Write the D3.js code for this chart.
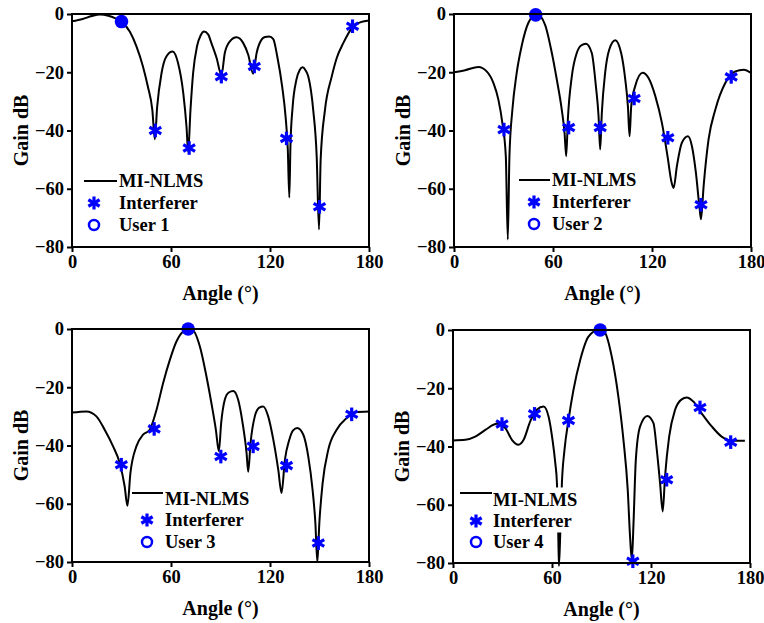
<!DOCTYPE html>
<html>
<head>
<meta charset="utf-8">
<script src="https://d3js.org/d3.v7.min.js"></script>
<style>
  body { margin: 0; background: #fff; }
  text { font-family: "Liberation Serif", "Times New Roman", serif; font-weight: bold; font-size: 18.5px; fill: #000; }
  text.axisLabel { font-size: 20px; }
</style>
</head>
<body>
<div id="chart"></div>
<script>
// Tick values shared by all four panels
const angleTicks = [0, 60, 120, 180];
const gainTicks = [0, -20, -40, -60, -80];

// Beam patterns, [angle (deg), gain (dB)]
const curve1 = [[0,-2.5],[6.5,-1.7],[12,-0.7],[17,-0.2],[22,-0.6],[26,-1.4],[30,-2.7],[35,-6],[39,-11],[43,-18],[46,-25],[48.7,-33],[50.2,-43],[51.6,-32],[54.2,-20.5],[57.2,-14.6],[61,-12.9],[64.3,-16.9],[67.4,-27],[69.4,-38.7],[70.4,-47.3],[71.8,-33],[73.4,-20.3],[75.8,-11],[78,-7.3],[80,-6],[82.5,-7],[84.5,-10],[87.6,-15],[90.6,-21],[92.6,-13.4],[95.7,-9.4],[99.7,-8],[103.8,-10],[106.8,-14],[109.8,-20.5],[111.9,-13.4],[114.9,-8.8],[117,-7.9],[119.5,-7.7],[122,-8.6],[124.4,-14.6],[127.4,-25],[129.4,-35],[130.8,-46.7],[131.7,-63],[132.4,-45],[133.7,-32],[136,-22.6],[138,-19.2],[139.8,-18.3],[141.5,-19.3],[143.2,-21.5],[146.2,-33],[148.3,-49],[149.7,-74],[150.7,-50],[153.3,-33],[157.4,-21.5],[160.5,-15],[164.4,-10],[170.5,-4.2],[175,-2.8],[180,-2.2]];
const curve2 = [[0,-20],[6.7,-19.3],[14.8,-18.2],[19.8,-19.7],[23.9,-23.7],[26.9,-29.4],[29.3,-37.4],[31.4,-48.8],[32.6,-77.4],[33.6,-48.8],[35.4,-32.8],[38,-20.2],[41,-11],[45.1,-3],[50.2,0],[55.2,-3.7],[59.3,-13.4],[62.3,-22.5],[65.3,-32.8],[67,-40.8],[68,-48.8],[69,-36.2],[71.4,-21.4],[74.4,-13.4],[77,-10.8],[80,-10.2],[83.5,-13.4],[86,-24.8],[87.6,-35],[88.6,-46.5],[89.6,-33.9],[91.6,-20.2],[94.1,-12.2],[97.7,-9],[101.3,-13.4],[103.8,-22.5],[105.4,-31.7],[106.4,-42],[107.4,-31.7],[109.8,-24.8],[114.3,-20.2],[117.9,-22],[122,-28.2],[126,-37.4],[129.4,-48.8],[131.7,-57.4],[133.1,-59.7],[135.1,-52.2],[138.1,-44.2],[141.8,-42],[144.2,-45.4],[146.6,-54.5],[148.7,-66],[149.7,-70.5],[151.3,-59],[154.3,-43],[158.4,-32.8],[164.4,-23.7],[170.5,-19.7],[175.6,-19.1],[180,-20.2]];
const curve3 = [[0,-28.7],[8.7,-28.3],[14.8,-30],[19.8,-34.6],[24.9,-40.3],[28.9,-46],[31.9,-54],[33.6,-60.7],[35.4,-49.5],[39,-40.3],[43.1,-36.3],[47.1,-34.6],[51.2,-27.8],[55.2,-18.6],[59.3,-10.6],[63.3,-4.3],[67.4,-0.9],[72.4,0],[77.5,-6],[81.5,-16.3],[84.5,-25.5],[87.2,-34.6],[89,-42],[90.4,-32.3],[92.6,-24.3],[95,-21.8],[97.7,-21.3],[100.7,-24.3],[103.4,-32.3],[105.8,-42.6],[106.8,-49],[108.2,-39.2],[110.8,-30],[113.5,-27],[115.9,-26.6],[118.9,-30],[122,-38],[125,-48.3],[127,-56.3],[129,-45],[131.7,-38],[134,-34.8],[136.5,-34],[140.2,-36.3],[143.2,-43.8],[145.8,-55.2],[147.5,-66.6],[148.7,-80],[149.9,-66.6],[151.9,-52.9],[155.3,-41.5],[160.4,-34.6],[166.5,-30.6],[171.5,-28.6],[180,-28.3]];
const curve4 = [[0,-37.9],[7.5,-37.7],[13.5,-36.6],[19.6,-34.3],[26.6,-32.2],[31.7,-33.7],[35.7,-37.7],[39.7,-39.4],[42.8,-37.7],[46.8,-31.4],[50.8,-27.4],[54.9,-26.3],[57.9,-29.7],[60.3,-37.7],[62,-45.7],[63,-52.6],[63.8,-70],[64.2,-81],[65,-70],[66,-52.6],[67.6,-41],[70,-30.9],[73,-20.6],[77.1,-10.3],[82.1,-2.3],[88.2,0],[92.2,-1.1],[96.2,-9.1],[100.3,-23.2],[103.3,-37.7],[105.9,-54.9],[107.3,-70.9],[108.4,-78.9],[109.4,-66.3],[110.8,-44.6],[113.4,-33.1],[117.8,-29.5],[121.5,-32],[123.5,-41.1],[125.5,-52.6],[127.1,-62.3],[128.5,-50.3],[131,-36.6],[134.6,-27.4],[138.6,-23.8],[141.6,-23.2],[145.7,-24.6],[150.7,-28.6],[156.8,-33.1],[162.8,-36.6],[168.9,-38],[176.9,-38]];

// Interferer directions and the gain marked at each
const interferers1 = [[50.5,-40],[71,-46],[90.5,-21.5],[110.5,-18],[130,-42.7],[150,-66.2],[170,-4.2]];
const interferers2 = [[30.3,-39.7],[69.5,-39],[88.6,-39],[109.2,-29],[129.6,-42.5],[149.7,-65.5],[168,-21.6]];
const interferers3 = [[29.9,-46.6],[49.8,-34.3],[90.2,-43.8],[109.8,-40.3],[130,-46.9],[149.3,-73.5],[169.5,-29.3]];
const interferers4 = [[29.7,-32.3],[49.4,-28.8],[70,-31.1],[109,-79.4],[129.5,-51.4],[149.7,-26.6],[168.3,-38.5]];

// Desired user directions
const users = [[30,-2.6],[49.5,-0.3],[70.4,0],[89.2,0]];
const userLabels = ['User 1', 'User 2', 'User 3', 'User 4'];
const legendLabels = ['MI-NLMS', 'Interferer'];

const blue = '#0000ff';

const panels = [
  { curve: curve1, interferers: interferers1, left: 72, top: 14,
    legend: { x0: 12, x1: 45, lineY: 167, mark: 22, text: 47, rows: [167, 189, 211] } },
  { curve: curve2, interferers: interferers2, left: 454, top: 14,
    legend: { x0: 65, x1: 96, lineY: 166, mark: 80, text: 98, rows: [166, 188, 210] } },
  { curve: curve3, interferers: interferers3, left: 72, top: 329,
    legend: { x0: 60, x1: 91, lineY: 164, mark: 75, text: 93, rows: [170, 191, 213] } },
  { curve: curve4, interferers: interferers4, left: 453, top: 330,
    legend: { x0: 7, x1: 39, lineY: 163, mark: 23, text: 40, rows: [170, 191, 212] } }
];

const width = 297, height = 233;

let svg = d3.select('#chart')
  .append('svg')
  .attr('width', 764)
  .attr('height', 623);

// six-armed asterisk like the plotting '*' marker
function star(sel, r) {
  [90, 30, 150].forEach(a => {
    let dx = r * Math.cos(a * Math.PI / 180), dy = r * Math.sin(a * Math.PI / 180);
    sel.append('line')
      .attr('x1', -dx).attr('y1', -dy)
      .attr('x2', dx).attr('y2', dy)
      .attr('stroke', blue)
      .attr('stroke-width', 3.2);
  });
}

panels.forEach((p, i) => {
  let g = svg.append('g')
    .attr('transform', 'translate(' + p.left + ',' + p.top + ')');

  let x = d3.scaleLinear().domain([0, 180]).range([0, width]);
  let y = d3.scaleLinear().domain([-80, 0]).range([height, 0]);

  // beam pattern
  g.append('path')
    .datum(p.curve)
    .attr('fill', 'none')
    .attr('stroke', '#000')
    .attr('stroke-width', 2)
    .attr('d', d3.line()
      .curve(d3.curveMonotoneX)
      .x(d => x(d[0]))
      .y(d => y(d[1])));

  // interferers
  g.selectAll('.intf')
    .data(p.interferers)
    .enter().append('g')
    .attr('class', 'intf')
    .attr('transform', d => 'translate(' + x(d[0]) + ',' + y(d[1]) + ')')
    .each(function () { star(d3.select(this), 6.8); });

  // user
  g.append('circle')
    .attr('cx', x(users[i][0]))
    .attr('cy', y(users[i][1]))
    .attr('r', 6.8)
    .attr('fill', blue);

  // legend, each label on its own white patch
  let L = p.legend;
  let lg = g.append('g');
  let labels = [legendLabels[0], legendLabels[1], userLabels[i]];
  labels.forEach((t, k) => {
    let txt = lg.append('text')
      .attr('x', L.text)
      .attr('y', L.rows[k])
      .attr('dy', '0.35em')
      .text(t);
    let bb = txt.node().getBBox();
    lg.insert('rect', 'text')
      .attr('x', bb.x - 2)
      .attr('y', bb.y - 3)
      .attr('width', bb.width + 4)
      .attr('height', bb.height + 4)
      .attr('fill', '#fff');
  });
  lg.append('line')
    .attr('x1', L.x0).attr('x2', L.x1)
    .attr('y1', L.lineY).attr('y2', L.lineY)
    .attr('stroke', '#000')
    .attr('stroke-width', 2);
  star(lg.append('g').attr('transform', 'translate(' + L.mark + ',' + L.rows[1] + ')'), 6.5);
  lg.append('circle')
    .attr('cx', L.mark)
    .attr('cy', L.rows[2])
    .attr('r', 5)
    .attr('fill', 'none')
    .attr('stroke', blue)
    .attr('stroke-width', 2.5);

  // frame
  g.append('rect')
    .attr('width', width)
    .attr('height', height)
    .attr('fill', 'none')
    .attr('stroke', '#000')
    .attr('stroke-width', 2);

  // axes
  let xAxis = g.append('g')
    .attr('transform', 'translate(0,' + height + ')')
    .call(d3.axisBottom(x).tickValues(angleTicks).tickSize(5).tickPadding(3));
  let yAxis = g.append('g')
    .call(d3.axisLeft(y).tickValues(gainTicks).tickSize(5).tickPadding(3));
  [xAxis, yAxis].forEach(a => {
    a.select('.domain').remove();
    a.selectAll('line').attr('stroke-width', 2);
    a.selectAll('text')
      .style('font-family', '"Liberation Serif", "Times New Roman", serif')
      .style('font-weight', 'bold')
      .style('font-size', '18.5px');
  });

  // axis labels
  g.append('text')
    .attr('class', 'axisLabel')
    .attr('transform', 'translate(-44,' + (height / 2) + ') rotate(-90)')
    .attr('text-anchor', 'middle')
    .text('Gain dB');
  g.append('text')
    .attr('class', 'axisLabel')
    .attr('x', width / 2)
    .attr('y', height + 53)
    .attr('text-anchor', 'middle')
    .text('Angle (°)');
});
</script>
</body>
</html>
